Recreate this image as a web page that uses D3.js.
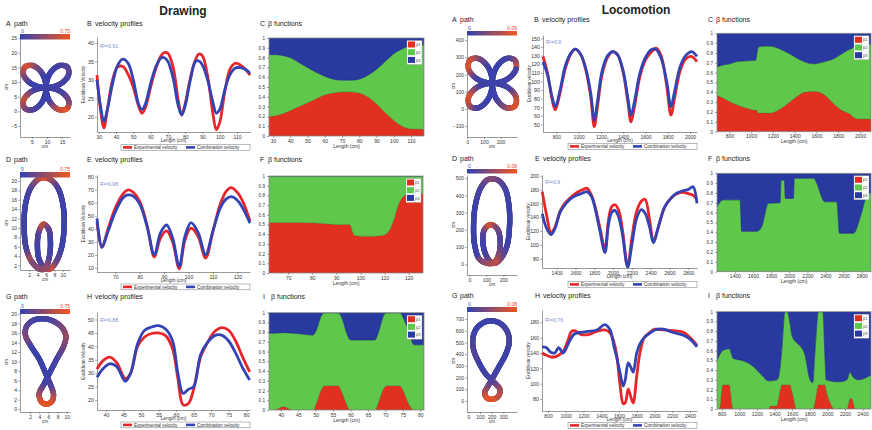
<!DOCTYPE html>
<html>
<head>
<meta charset="utf-8">
<script src="https://cdn.jsdelivr.net/npm/d3@7"></script>
<style>
  body { margin: 0; background: #fff; }
  svg { display: block; font-family: "Liberation Sans", Arial, sans-serif; }
</style>
</head>
<body>
<script>
// ---------- data: paths (cm) and the colour value at each vertex ----------
var drawPathA = [[14.53,9.39],[17.2,12.43],[16.77,15.17],[14.03,15.6],[10.99,12.93],[9.7,8.1],
  [10.99,3.27],[14.03,0.6],[16.77,1.03],[17.2,3.77],[14.53,6.81],[9.7,8.1],
  [4.87,6.81],[2.2,3.77],[2.63,1.03],[5.37,0.6],[8.41,3.27],[9.7,8.1],
  [8.41,12.93],[5.37,15.6],[2.63,15.17],[2.2,12.43],[4.87,9.39],[9.7,8.1]];
var drawValA = [0.1,0.2,0.15,0.1,0.05,0.05, 0.05,0.55,0.7,0.3,0.1,0.05,
  0.1,0.6,0.35,0.15,0.05,0.05, 0.05,0.35,0.65,0.4,0.05,0.05];

var drawPathD = [[4.6,1.2],[2.6,2.8],[1.2,6],[0.8,10.5],[1.1,15],[2.4,18.6],[4.2,20.4],[5.6,20.7],
  [7.2,20.2],[8.9,18.4],[10.1,14.5],[10.3,10],[9.6,5.5],[8.2,2.5],[6.8,1.2],[5.6,1.6],[4.4,3.2],
  [3.95,6],[4.3,9.2],[5.4,10.8],[6.6,9.8],[7.05,7],[6.7,3.5],[5.8,1.4]];
var drawValD = [0.3,0.6,0.1,0.05,0.05,0.1,0.4,0.7,0.45,0.1,0.05,0.05,0.05,0.2,0.6,0.3,0.1,
  0.05,0.15,0.6,0.2,0.05,0.1,0.4];

var drawPathG = [[4.0,10.5],[2.2,13.2],[1.0,15.5],[1.2,17.3],[2.6,18.6],[4.6,19.0],[6.8,18.6],
  [8.9,17.2],[9.8,15.3],[9.3,13.2],[7.8,10.5],[6.2,7.5],[5.0,5.2],[4.0,3.3],[4.4,1.6],[5.6,1.05],
  [6.8,1.7],[7.1,3.2],[6.5,5.0],[5.6,7.0]];
var drawValG = [0.05,0.1,0.3,0.2,0.1,0.05,0.1,0.25,0.4,0.3,0.1,0.05,0.05,0.35,0.65,0.7,0.65,0.5,0.15,0.05];

var locoPathA = [[241.8,174.5],[292.5,232.3],[284.3,284.3],[232.3,292.5],[174.5,241.8],[150,150],
  [174.5,58.2],[232.3,7.5],[284.3,15.7],[292.5,67.7],[241.8,125.5],[150,150],
  [58.2,125.5],[7.5,67.7],[15.7,15.7],[67.7,7.5],[125.5,58.2],[150,150],
  [125.5,241.8],[67.7,292.5],[15.7,284.3],[7.5,232.3],[58.2,174.5],[150,150]];
var locoValA = [0.01,0.08,0.05,0.01,0.005,0.005, 0.005,0.04,0.08,0.07,0.01,0.005,
  0.01,0.08,0.06,0.01,0.005,0.005, 0.005,0.03,0.07,0.08,0.01,0.005];

var locoPathD = [[110,5],[60,30],[32,110],[25,220],[35,340],[65,440],[105,490],[135,496],[170,488],
  [210,440],[233,340],[236,220],[222,110],[190,40],[155,8],[125,15],[95,60],[80,130],[88,200],
  [125,231],[165,205],[182,130],[172,55],[145,10]];
var locoValD = [0.03,0.01,0.005,0.005,0.005,0.01,0.025,0.035,0.025,0.01,0.005,0.005,0.005,0.02,
  0.05,0.04,0.01,0.005,0.02,0.07,0.03,0.01,0.03,0.06];

var locoPathG = [[150,230],[90,330],[45,440],[40,540],[70,620],[140,675],[200,685],[270,665],
  [330,600],[350,510],[320,400],[260,290],[210,200],[170,130],[140,70],[160,25],[210,15],[260,45],
  [270,100],[230,150],[190,190]];
var locoValG = [0.005,0.01,0.015,0.01,0.005,0.005,0.005,0.005,0.01,0.01,0.005,0.005,0.01,0.02,
  0.05,0.07,0.075,0.06,0.05,0.03,0.01];

// ---------- data: velocity profiles ----------
var drawLenB  = [29,31,33,35,38,41,44,47,50,53,55,57,60,63,66,68,70,73,76,78,80,83,86,88,90,93,96,98,100,103,106,109,112,115,117.5];
var drawExpB  = [31.3,22,17,22,30,33.5,33.6,31.5,28,23,21,22.5,28,33,36.5,37.4,37.2,33.5,24.5,20.5,23.5,30.5,35.5,37,36.5,31,21,16.5,18.5,27,33,34.5,34,32.8,31.3];
var drawCombB = [30,23,18.7,22,29,34,35.6,34.5,30,23.5,22,23.5,29,33.5,35.9,36,35,30.5,23,20.5,23,30,35,35.1,34,30,24,21,22,27.5,31.5,33.2,33.3,32.8,31.8];

var drawLenE  = [62.5,64.5,67,70,73,75,77,80,83,86,88.5,91,93.5,96.2,98.5,101,104,107,110,113,115.5,117.5,120,122.5,125.2];
var drawExpE  = [45,26,40,56,66.5,69.8,68.5,61,43,18.5,33,38.5,30,9.5,31,40.6,34,17.7,38,59,69,71.6,68,60,46];
var drawCombE = [48,25.8,38,53,63.5,66,65.5,59,42,20.2,37,43,33,11.3,34,44.8,37,20.2,38.5,56,63,64.7,62,55,44.4];

var drawLenH  = [37.4,39,41,43,45.5,47,49,51,53,55,57,59,60.5,62,63.5,65,67,69,71,73,75,77,79,81];
var drawExpH  = [31.5,34.5,36,34,28,30,40,43.5,44.8,45,44,39,28,18.2,18.7,24,36,41.5,45.5,47,46,42,36,30.5];
var drawCombH = [28.5,31.5,33.5,32.5,27,30,41,46,47.2,47.7,46.5,42,30,22.5,24,25,37,41.5,44,44.2,42,37.5,32,27.5];

var locoLenB  = [680,720,760,790,830,880,930,970,1020,1070,1110,1140,1170,1210,1260,1305,1350,1400,1440,1470,1500,1550,1600,1650,1695,1740,1790,1828,1860,1910,1960,2015,2062];
var locoExpB  = [129,110,80,67,85,115,132,137.5,131,110,80,47.5,72,108,128,134.7,131,110,78,53,70,106,125,134,138.6,130,95,61,80,112,126,129,123];
var locoCombB = [123,108,83,70.7,88,118,133,137.5,131,112,85,55,78,112,130,134.7,131,112,82,61,76,110,128,137,137,127,100,70.7,88,117,130,134.7,129];

var locoLenE  = [1247,1290,1340,1380,1440,1500,1560,1620,1680,1720,1770,1810,1860,1914,1950,1985,2020,2060,2100,2155,2200,2250,2300,2340,2390,2430,2480,2550,2620,2680,2740,2800,2850,2893];
var locoExpE  = [177,145,118,125,150,162,170,176,180,182,172,155,125,94,135,155,158,150,122,69,110,148,163,166,135,105,125,155,168,174,176,174,172,165];
var locoCombE = [145,125,115,123,148,160,168,172,175,177,170,152,120,89,128,147,150,140,115,68,100,138,151,146,125,103,125,155,168,175,178,180,184,160];

var locoLenH  = [732,780,830,876,920,970,1020,1064,1100,1177,1250,1350,1441,1500,1540,1573,1610,1647,1670,1704,1735,1760,1800,1836,1885,1950,2005,2100,2200,2325,2400,2479];
var locoExpH  = [140,137,135,135,137,142,155,168,169,164,164,168,170,166,155,138,100,74,75,93,82,75,110,140,160,167,171,170,169,167,160,150];
var locoCombH = [148,147,141,140,147,140,150,160,165,167,168,170,177,170,150,135,115,97,105,127,121,115,140,152,160,166,170,171,167,163,158,148];

// ---------- data: beta functions (beta1 and the beta1+beta2 boundary) ----------
var drawLenC   = [27.7,32,36,40,45,50,55,60,65,70,75,80,85,90,95,100,105,110,117.5];
var drawBeta1C = [.20,.21,.23,.26,.30,.34,.38,.42,.44,.45,.45,.44,.40,.33,.24,.16,.10,.075,.07];
var drawUpC    = [.83,.83,.82,.80,.75,.70,.65,.61,.58,.57,.57,.58,.62,.68,.76,.84,.89,.92,.93];

var drawLenF   = [62,75,85,90,95.5,97.5,100,105,109.5,112,114,115.7,118.4,121,126];
var drawBeta1F = [.52,.52,.51,.50,.50,.39,.38,.38,.39,.44,.56,.70,.80,.82,.82];
var drawUpF    = [1,1,1,1,1,1,1,1,1,1,1,1,1,1,1];

var drawLenI   = [36.6,38,40.7,43.5,45,49.2,50.3,51.5,52.5,56.5,57.7,59,60,67,68.2,69.5,70.3,74.2,75.5,76.8,78.2,81.1];
var drawBeta1I = [0,0,.035,0,0,0,.08,.2,.25,.25,.17,.05,0,0,.1,.22,.25,.25,.17,.06,0,0];
var drawUpI    = [.79,.79,.795,.79,.785,.77,.83,.96,1,1,.93,.78,.72,.72,.82,.97,1,1,.92,.8,.67,.67];

var locoLenC   = [687,750,806,880,960,1040,1048,1066,1112,1173,1265,1357,1449,1479,1571,1632,1700,1754,1830,1907,1953,2000,2100];
var locoBeta1C = [.37,.34,.305,.27,.24,.22,.22,.19,.19,.19,.23,.305,.38,.40,.41,.40,.35,.29,.22,.18,.14,.13,.13];
var locoUpC    = [.66,.68,.69,.715,.72,.725,.76,.86,.87,.87,.84,.79,.73,.715,.69,.70,.72,.74,.79,.84,.86,.88,.89];

var locoLenF   = [1202,1272,1456,1475,1641,1696,1769,1898,1909,1946,1957,2045,2056,2266,2395,2525,2554,2708,2801,2856,2902];
var locoBeta1F = [0,0,0,0,0,0,0,0,0,0,0,0,0,0,0,0,0,0,0,0,0];
var locoUpF    = [.66,.73,.73,.41,.41,.46,.695,.70,.93,.93,.745,.745,.95,.95,.71,.71,.39,.39,.61,.78,.80];

var locoLenI   = [747,773,811,887,932,1027,1141,1254,1330,1349,1425,1443,1482,1519,1546,1576,1600,1652,1690,1747,1803,1834,1860,1898,1948,1974,1985,2030,2088,2144,2220,2258,2277,2300,2315,2350,2495];
var locoBeta1I = [0,0,.25,.25,0,0,0,0,0,.03,.03,.1,.25,.25,.25,.25,.18,0,0,0,0,0,.08,.25,.25,.25,.2,.07,0,0,0,.11,.11,.05,0,0,0];
var locoUpI    = [.5,.55,.6,.62,.52,.5,.45,.35,.29,.29,.3,.32,.6,1,1,.88,.75,.68,.65,.55,.3,.27,.6,1,1,.5,.3,.29,.28,.28,.3,.38,.35,.32,.31,.3,.35];

// ---------- colours ----------
var BETA = ["#e1301f", "#5fc84c", "#28399f"];
var BETA_EDGE = ["#a52418", "#3f9a34", "#1b2878"];
var V_RED = "#e6262a", V_BLUE = "#3343b3";
var cbar = d3.interpolateRgb("#3141b3", "#f2561c");
var fmt = d3.format("d");

var svg = d3.select("body").append("svg").attr("width", 872).attr("height", 430);

function styleAxis(g, fs) {
  g.attr("font-family", null).attr("font-size", fs);
  g.select(".domain").attr("stroke", "#555").attr("stroke-width", 0.6);
  g.selectAll(".tick line").attr("stroke", "#555").attr("stroke-width", 0.5);
  g.selectAll(".tick text").attr("fill", "#333");
}

function title(x, y, letter, s) {
  svg.append("text").attr("x", x).attr("y", y).attr("font-size", 7).attr("fill", "#222").text(letter);
  svg.append("text").attr("x", x + 8).attr("y", y).attr("font-size", 7).attr("fill", "#222").text(s);
}

var gradN = 0;
function pathPanel(o) {
  var g = svg.append("g");
  var xs = d3.scaleLinear().domain(o.xd).range([o.x0, o.x1]);
  var ys = d3.scaleLinear().domain(o.yd).range([o.y1, o.y0]);

  g.append("g").attr("transform", "translate(" + o.x0 + ",0)")
    .call(d3.axisLeft(ys).tickValues(o.yt).tickFormat(fmt).tickSize(2).tickPadding(1).tickSizeOuter(0))
    .call(styleAxis, 5);
  g.append("g").attr("transform", "translate(0," + o.y1 + ")")
    .call(d3.axisBottom(xs).tickValues(o.xt).tickFormat(fmt).tickSize(2).tickPadding(1).tickSizeOuter(0))
    .call(styleAxis, 5);
  g.append("text").attr("transform", "translate(" + (o.x0 - 12) + "," + ((o.y0 + o.y1) / 2) + ") rotate(-90)")
    .attr("text-anchor", "middle").attr("font-size", 4.6).attr("fill", "#333").text("cm");
  g.append("text").attr("x", (o.x0 + o.x1) / 2).attr("y", o.y1 + 11)
    .attr("text-anchor", "middle").attr("font-size", 4.6).attr("fill", "#333").text("cm");

  // thick path, coloured along its length
  var px = o.pts.map(function (p) { return [xs(p[0]), ys(p[1])]; });
  var line = d3.line().curve(d3.curveCatmullRomClosed.alpha(0.5));
  var guide = g.append("path").attr("d", line(px)).attr("fill", "none");
  var node = guide.node(), L = node.getTotalLength();
  var n = Math.ceil(L / 0.7);
  var s = d3.range(n + 1).map(function (i) { return node.getPointAtLength(L * i / n); });
  var at = [0], j = 0;
  for (var k = 1; k < px.length; k++) {
    var best = j + 1, bd = Infinity;
    for (var q = j + 1; q <= n; q++) {
      var d = Math.hypot(s[q].x - px[k][0], s[q].y - px[k][1]);
      if (d < bd) { bd = d; best = q; }
      if (bd < 1.5 && d > bd + 3) break;
    }
    at.push(best); j = best;
  }
  at.push(n);
  var v = [];
  for (k = 0; k < px.length; k++) {
    var a = at[k], b = at[k + 1], v0 = o.vals[k], v1 = o.vals[(k + 1) % px.length];
    for (q = a; q <= b; q++) v[q] = v0 + (v1 - v0) * (b > a ? (q - a) / (b - a) : 0);
  }
  guide.remove();
  var cs = d3.scaleLinear().domain([0, o.vmax]).range([0, 1]).clamp(true);
  g.append("g").selectAll("line").data(d3.range(n)).join("line")
    .attr("x1", function (i) { return s[i].x; }).attr("y1", function (i) { return s[i].y; })
    .attr("x2", function (i) { return s[i + 1].x; }).attr("y2", function (i) { return s[i + 1].y; })
    .attr("stroke", function (i) { return cbar(cs(v[i])); })
    .attr("stroke-width", 5.4).attr("stroke-linecap", "round");

  // colour bar
  var id = "cb" + (gradN++);
  var grad = svg.append("defs").append("linearGradient").attr("id", id);
  d3.range(11).forEach(function (i) {
    grad.append("stop").attr("offset", (i * 10) + "%").attr("stop-color", cbar(i / 10));
  });
  g.append("rect").attr("x", o.x0).attr("y", o.barY).attr("width", o.x1 - o.x0).attr("height", o.barH)
    .attr("fill", "url(#" + id + ")");
  g.append("text").attr("x", o.x0 + 1).attr("y", o.barY - 1.5).attr("font-size", 5).attr("fill", "#3a4ac0").text("0");
  g.append("text").attr("x", o.x1).attr("y", o.barY - 1.5).attr("font-size", 5).attr("text-anchor", "end")
    .attr("fill", "#e8402a").text(o.vmaxLabel);
}

function velPanel(o) {
  var g = svg.append("g");
  var xs = d3.scaleLinear().domain(o.xd).range([o.x0, o.x1]);
  var ys = d3.scaleLinear().domain(o.yd).range([o.y1, o.y0]);
  g.append("g").attr("transform", "translate(" + o.x0 + ",0)")
    .call(d3.axisLeft(ys).tickValues(o.yt).tickFormat(fmt).tickSize(2).tickPadding(1).tickSizeOuter(0))
    .call(styleAxis, 5.3);
  g.append("g").attr("transform", "translate(0," + o.y1 + ")")
    .call(d3.axisBottom(xs).tickValues(o.xt).tickFormat(fmt).tickSize(2).tickPadding(1).tickSizeOuter(0))
    .call(styleAxis, 5);

  var line = d3.line().curve(d3.curveCatmullRom.alpha(0.5));
  [[o.exp, V_RED], [o.comb, V_BLUE]].forEach(function (sr) {
    g.append("path")
      .attr("d", line(o.len.map(function (x, i) { return [xs(x), ys(sr[0][i])]; })))
      .attr("fill", "none").attr("stroke", sr[1]).attr("stroke-width", 2.8)
      .attr("stroke-linejoin", "round");
  });
  g.append("text").attr("x", o.x0 + 3).attr("y", o.r2y).attr("font-size", 5).attr("fill", "#7c8bd0").text(o.r2);
  g.append("text").attr("transform", "translate(" + (o.x0 - 12) + "," + ((o.y0 + o.y1) / 2) + ") rotate(-90)")
    .attr("text-anchor", "middle").attr("font-size", 4.6).attr("fill", "#333").text(o.ylab);
  g.append("text").attr("x", (o.x0 + o.x1) / 2).attr("y", o.y1 + 10.3)
    .attr("text-anchor", "middle").attr("font-size", 4.8).attr("fill", "#333").text("Length (cm)");

  // legend
  var lx = o.legX, ly = o.legY, lw = o.legW;
  g.append("rect").attr("x", lx).attr("y", ly).attr("width", lw).attr("height", 5.8)
    .attr("fill", "#fff").attr("stroke", "#777").attr("stroke-width", 0.5);
  g.append("line").attr("x1", lx + 2).attr("x2", lx + 11).attr("y1", ly + 2.9).attr("y2", ly + 2.9)
    .attr("stroke", V_RED).attr("stroke-width", 2.6);
  g.append("text").attr("x", lx + 13).attr("y", ly + 4.7).attr("font-size", 4.6).attr("fill", "#333").text("Experimental velocity");
  g.append("line").attr("x1", lx + 65).attr("x2", lx + 74).attr("y1", ly + 2.9).attr("y2", ly + 2.9)
    .attr("stroke", V_BLUE).attr("stroke-width", 2.6);
  g.append("text").attr("x", lx + 76).attr("y", ly + 4.7).attr("font-size", 4.6).attr("fill", "#333").text("Combination velocity");
}

var clipN = 0;
function betaPanel(o) {
  var g = svg.append("g");
  var xs = d3.scaleLinear().domain(o.xd).range([o.x0, o.x1]);
  var ys = d3.scaleLinear().domain([0, 1]).range([o.y1, o.y0]);
  var rows = o.len.map(function (x, i) {
    return { x: x, b1: o.b1[i], b2: o.up[i] - o.b1[i], b3: 1 - o.up[i] };
  });
  var series = d3.stack().keys(["b1", "b2", "b3"])(rows);
  var area = d3.area().curve(d3.curveMonotoneX)
    .x(function (d) { return xs(d.data.x); })
    .y0(function (d) { return ys(d[0]); })
    .y1(function (d) { return ys(d[1]); });
  var cid = "clip" + (clipN++);
  svg.append("defs").append("clipPath").attr("id", cid).append("rect")
    .attr("x", o.x0).attr("y", o.y0).attr("width", o.x1 - o.x0).attr("height", o.y1 - o.y0);
  g.append("g").attr("clip-path", "url(#" + cid + ")").selectAll("path").data(series).join("path")
    .attr("d", area)
    .attr("fill", function (d, i) { return BETA[i]; })
    .attr("stroke", function (d, i) { return BETA_EDGE[i]; }).attr("stroke-width", 0.5);
  g.append("rect").attr("x", o.x0).attr("y", o.y0).attr("width", o.x1 - o.x0).attr("height", o.y1 - o.y0)
    .attr("fill", "none").attr("stroke", "#8a8a8a").attr("stroke-width", 0.8);

  g.append("g").attr("transform", "translate(" + o.x0 + ",0)")
    .call(d3.axisLeft(ys).tickValues(d3.range(0, 1.01, 0.1)).tickSize(2).tickPadding(2)
      .tickFormat(function (d) { return String(+d.toFixed(1)); }).tickSizeOuter(0))
    .call(styleAxis, 4.6);
  g.append("g").attr("transform", "translate(0," + o.y1 + ")")
    .call(d3.axisBottom(xs).tickValues(o.xt).tickFormat(fmt).tickSize(2).tickPadding(1).tickSizeOuter(0))
    .call(styleAxis, 5);
  g.selectAll(".domain").attr("stroke", "none");
  g.append("text").attr("x", (o.x0 + o.x1) / 2).attr("y", o.y1 + 11.5)
    .attr("text-anchor", "middle").attr("font-size", 5).attr("fill", "#333").text("Length (cm)");

  // small legend in the corner
  var lx = o.x1 - 17, ly = o.y0 + 2.5;
  g.append("rect").attr("x", lx).attr("y", ly).attr("width", 15).attr("height", 24)
    .attr("fill", "#fff").attr("stroke", "#999").attr("stroke-width", 0.4);
  ["1", "2", "3"].forEach(function (k, i) {
    g.append("rect").attr("x", lx + 1).attr("y", ly + 1 + i * 7.7).attr("width", 7).attr("height", 6)
      .attr("fill", BETA[i]);
    g.append("text").attr("x", lx + 9).attr("y", ly + 5.6 + i * 7.7).attr("font-size", 4).attr("fill", "#444")
      .text("\u03b2" + k);
  });
}

// ---------- headings ----------
svg.append("text").attr("x", 183).attr("y", 15).attr("text-anchor", "middle")
  .attr("font-size", 12).attr("font-weight", "bold").attr("fill", "#222").text("Drawing");
svg.append("text").attr("x", 636).attr("y", 14).attr("text-anchor", "middle")
  .attr("font-size", 12).attr("font-weight", "bold").attr("fill", "#222").text("Locomotion");

// ---------- Drawing ----------
title(6, 26, "A", "path");
title(87, 26, "B", "velocity profiles");
title(260, 26, "C", "\u03b2 functions");
title(6, 162, "D", "path");
title(87, 162, "E", "velocity profiles");
title(260, 162, "F", "\u03b2 functions");
title(6, 299, "G", "path");
title(87, 299, "H", "velocity profiles");
title(263, 299, "I", "\u03b2 functions");

pathPanel({ x0: 20, x1: 70, y0: 37, y1: 137, xd: [1, 17.7], yd: [-8.75, 25.4],
  xt: [5, 10, 15], yt: [-5, 0, 5, 10, 15, 20, 25], pts: drawPathA, vals: drawValA,
  vmax: 0.75, vmaxLabel: "0.75", barY: 34, barH: 5.5 });
pathPanel({ x0: 20, x1: 70, y0: 176, y1: 270, xd: [-0.2, 11.7], yd: [1.06, 21.06],
  xt: [2, 4, 6, 8, 10], yt: d3.range(2, 21, 2), pts: drawPathD, vals: drawValD,
  vmax: 0.75, vmaxLabel: "0.75", barY: 172, barH: 5.5 });
pathPanel({ x0: 20, x1: 70, y0: 312, y1: 412, xd: [-0.2, 10.7], yd: [-0.6, 20.4],
  xt: [2, 4, 6, 8, 10], yt: d3.range(0, 21, 2), pts: drawPathG, vals: drawValG,
  vmax: 0.75, vmaxLabel: "0.75", barY: 309, barH: 5 });

velPanel({ x0: 97, x1: 250, y0: 37, y1: 132, xd: [29, 117.5], yd: [15.9, 41.6],
  xt: d3.range(30, 111, 10), yt: [20, 25, 30, 35, 40], len: drawLenB, exp: drawExpB, comb: drawCombB,
  r2: "R\u00b2=0.91", r2y: 48, ylab: "Euclidean Velocity", legX: 121, legY: 144.5, legW: 129 });
velPanel({ x0: 97, x1: 250, y0: 175, y1: 272, xd: [62.5, 125.2], yd: [7, 81.3],
  xt: d3.range(70, 121, 10), yt: d3.range(10, 81, 10), len: drawLenE, exp: drawExpE, comb: drawCombE,
  r2: "R\u00b2=0.98", r2y: 186, ylab: "Euclidean Velocity", legX: 121, legY: 284, legW: 129 });
velPanel({ x0: 97, x1: 250, y0: 312, y1: 410, xd: [37.4, 81.1], yd: [16.3, 52.8],
  xt: d3.range(40, 81, 5), yt: d3.range(20, 51, 5), len: drawLenH, exp: drawExpH, comb: drawCombH,
  r2: "R\u00b2=0.88", r2y: 322, ylab: "Euclidean Velocity", legX: 121, legY: 422, legW: 129 });

betaPanel({ x0: 269, x1: 424, y0: 38, y1: 136, xd: [27.7, 117.5], xt: d3.range(30, 111, 10),
  len: drawLenC, b1: drawBeta1C, up: drawUpC });
betaPanel({ x0: 269, x1: 423, y0: 176, y1: 273, xd: [62, 126], xt: d3.range(70, 121, 10),
  len: drawLenF, b1: drawBeta1F, up: drawUpF });
betaPanel({ x0: 269, x1: 424, y0: 312.7, y1: 410, xd: [36.6, 81.1], xt: d3.range(40, 81, 5),
  len: drawLenI, b1: drawBeta1I, up: drawUpI });

// ---------- Locomotion ----------
title(452, 22, "A", "path");
title(534, 22, "B", "velocity profiles");
title(708, 22, "C", "\u03b2 functions");
title(452, 161, "D", "path");
title(535, 161, "E", "velocity profiles");
title(708, 161, "F", "\u03b2 functions");
title(452, 298, "G", "path");
title(535, 298, "H", "velocity profiles");
title(708, 298, "I", "\u03b2 functions");

pathPanel({ x0: 467, x1: 517, y0: 35, y1: 137, xd: [-2, 298], yd: [-163, 430],
  xt: [0, 100, 200], yt: d3.range(-100, 401, 100), pts: locoPathA, vals: locoValA,
  vmax: 0.09, vmaxLabel: "0.09", barY: 31, barH: 4.5 });
pathPanel({ x0: 467, x1: 517, y0: 175, y1: 275, xd: [-13.5, 280], yd: [-62, 519],
  xt: [0, 100, 200], yt: d3.range(0, 501, 100), pts: locoPathD, vals: locoValD,
  vmax: 0.08, vmaxLabel: "0.08", barY: 169, barH: 4.5 });
pathPanel({ x0: 467, x1: 517, y0: 310, y1: 412, xd: [-11, 416], yd: [-94, 778],
  xt: [0, 100, 200, 300], yt: d3.range(0, 701, 100), pts: locoPathG, vals: locoValG,
  vmax: 0.08, vmaxLabel: "0.08", barY: 307, barH: 5 });

velPanel({ x0: 543, x1: 697, y0: 35, y1: 132, xd: [680, 2062], yd: [41.3, 154],
  xt: d3.range(800, 2001, 200), yt: d3.range(50, 151, 10), len: locoLenB, exp: locoExpB, comb: locoCombB,
  r2: "R\u00b2=0.9", r2y: 44, ylab: "Euclidean velocity", legX: 568, legY: 143.5, legW: 129 });
velPanel({ x0: 542, x1: 697, y0: 175, y1: 268, xd: [1244, 2893], yd: [66.6, 201],
  xt: d3.range(1400, 2801, 200), yt: d3.range(80, 201, 20), len: locoLenE, exp: locoExpE, comb: locoCombE,
  r2: "R\u00b2=0.9", r2y: 184, ylab: "Euclidean velocity", legX: 568, legY: 281.5, legW: 129 });
velPanel({ x0: 542, x1: 697, y0: 310, y1: 411, xd: [732, 2479], yd: [64.4, 196],
  xt: d3.range(800, 2401, 200), yt: d3.range(80, 181, 20), len: locoLenH, exp: locoExpH, comb: locoCombH,
  r2: "R\u00b2=0.76", r2y: 322, ylab: "Euclidean velocity", legX: 568, legY: 422.5, legW: 129 });

betaPanel({ x0: 717, x1: 871, y0: 33.3, y1: 131.7, xd: [687, 2100], xt: d3.range(800, 2001, 200),
  len: locoLenC, b1: locoBeta1C, up: locoUpC });
betaPanel({ x0: 717, x1: 871, y0: 173.3, y1: 271.7, xd: [1202, 2902], xt: d3.range(1400, 2801, 200),
  len: locoLenF, b1: locoBeta1F, up: locoUpF });
betaPanel({ x0: 717, x1: 871, y0: 311.7, y1: 409, xd: [747, 2495], xt: d3.range(800, 2401, 200),
  len: locoLenI, b1: locoBeta1I, up: locoUpI });
</script>
</body>
</html>
